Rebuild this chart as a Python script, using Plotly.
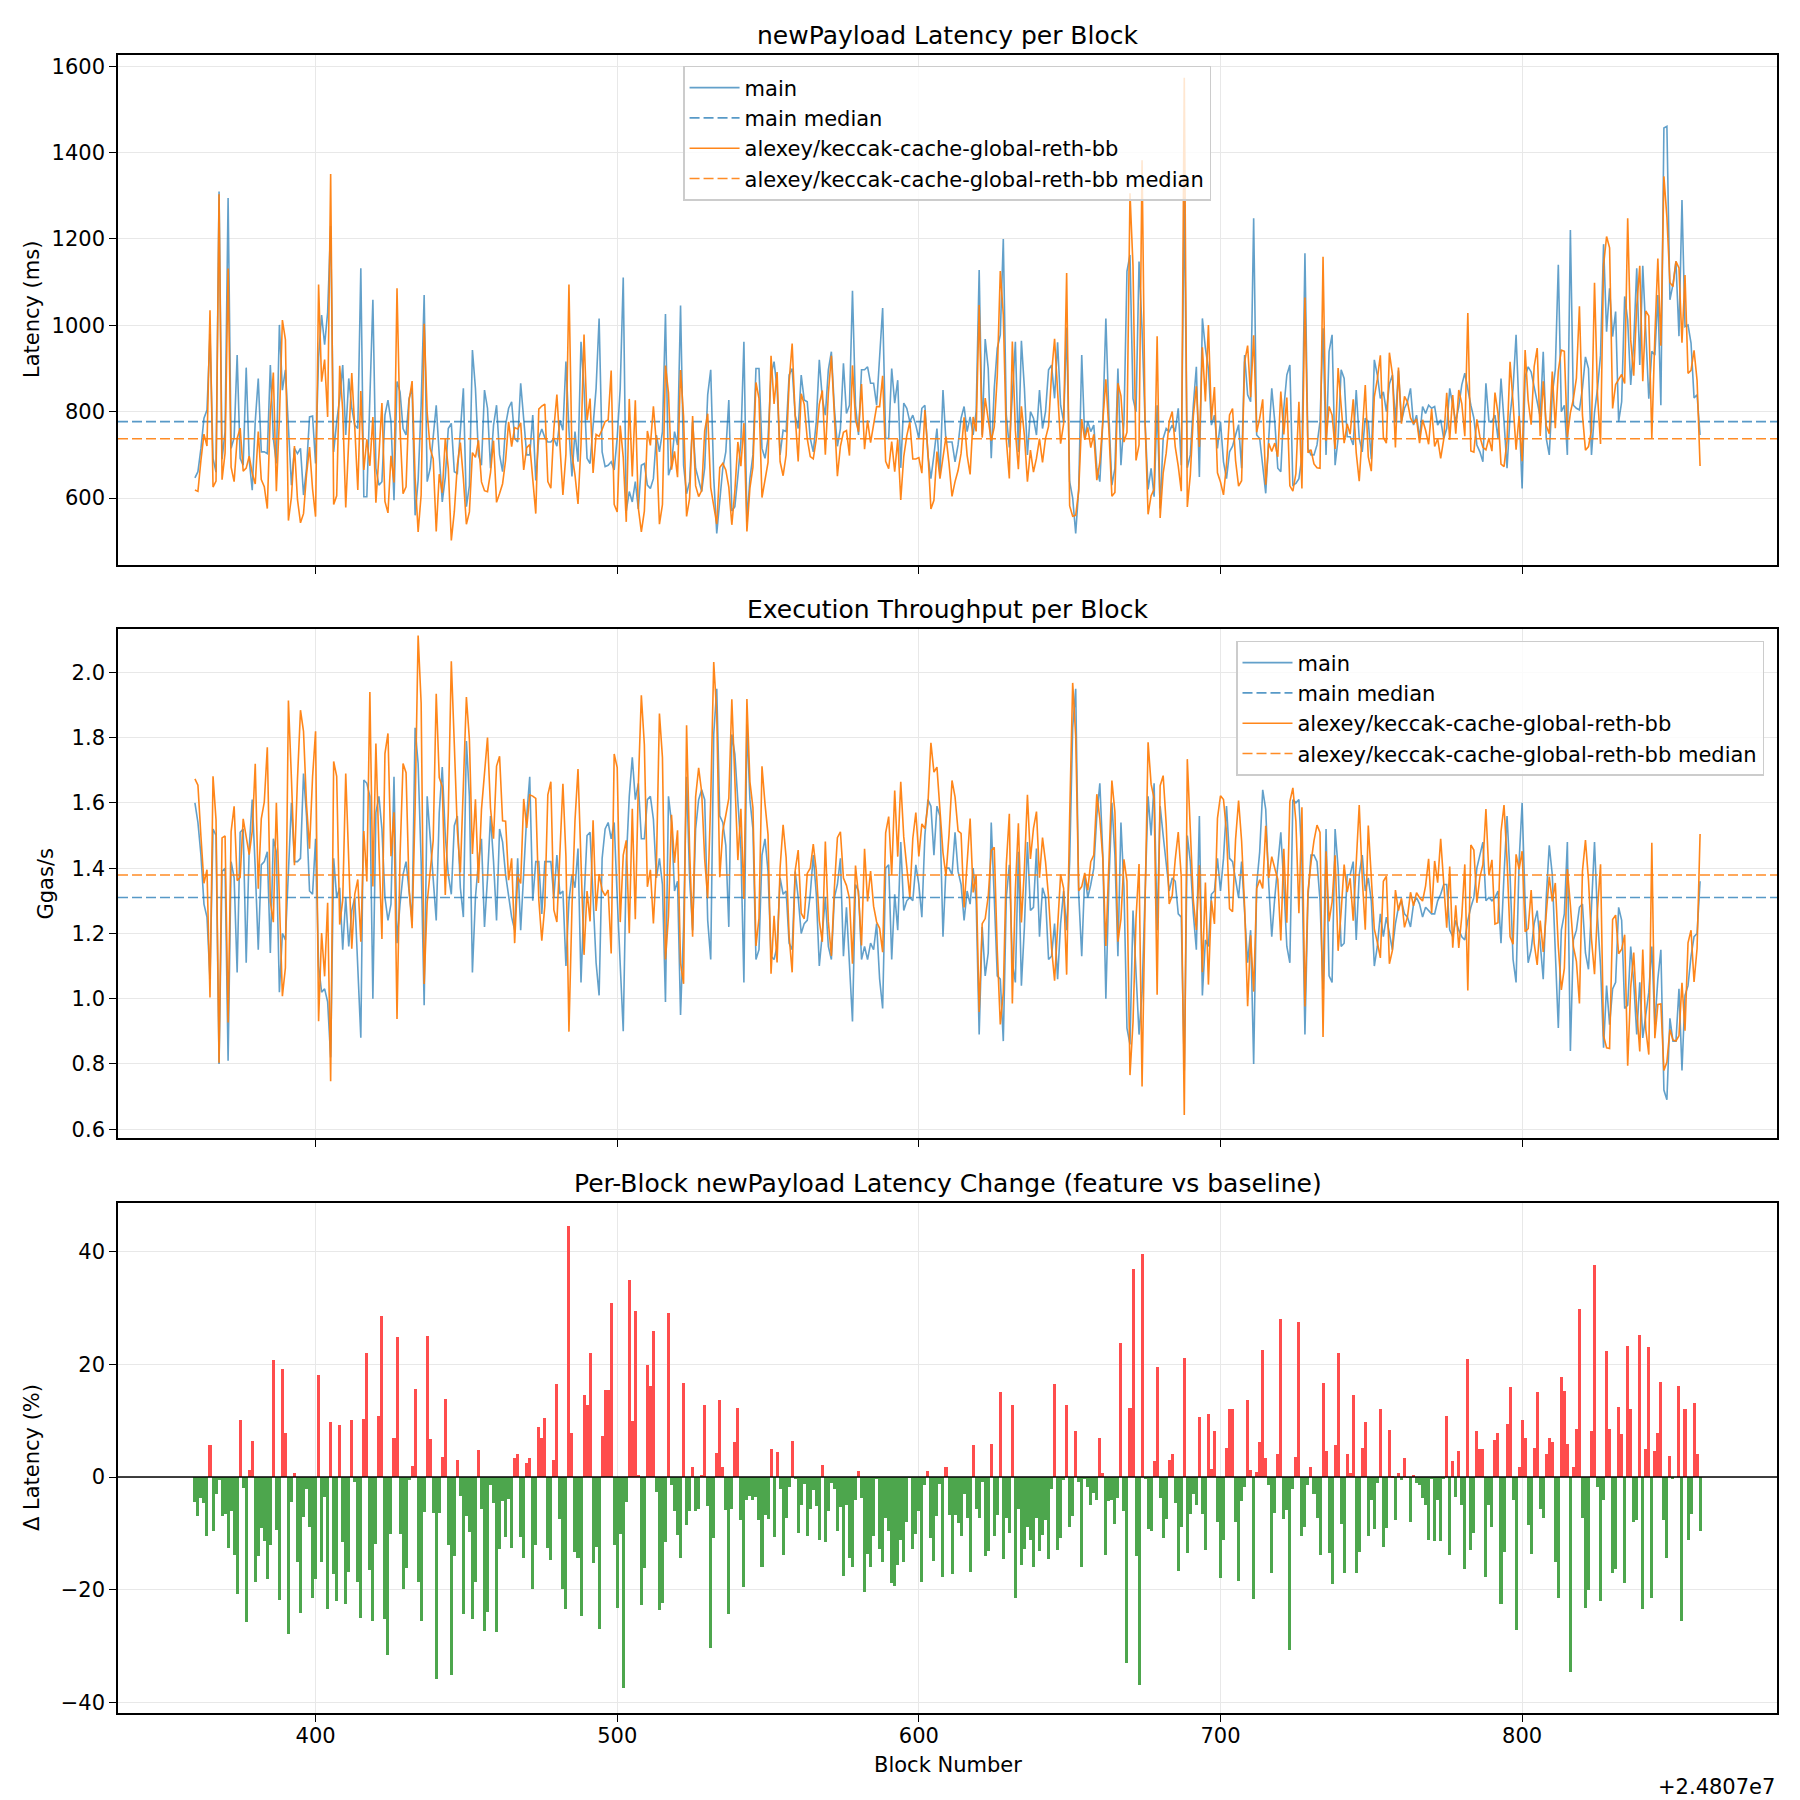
import numpy as np
import plotly.graph_objects as go
from plotly.subplots import make_subplots

# ---------------- data ----------------
BLOCK_START = 24807360
BLOCK_OFFSET = 24807000
MAIN_NAME = "main"
FEATURE_NAME = "alexey/keccak-cache-global-reth-bb"

# newPayload latency of the baseline ("main"), ms, blocks 24807360..24807859
main_latency_ms = [
    647, 661, 715, 785, 804, 980, 692, 660, 1310, 690,
    754, 1295, 715, 740, 931, 692, 676, 902, 688, 618,
    777, 877, 707, 707, 703, 908, 738, 680, 1001, 850,
    897, 760, 630, 715, 703, 715, 607, 669, 788, 790,
    680, 926, 1024, 955, 1030, 1230, 707, 777, 830, 908,
    746, 877, 808, 769, 761, 1132, 603, 603, 808, 1059,
    669, 630, 638, 792, 827, 777, 595, 870, 846, 761,
    746, 831, 854, 560, 641, 815, 1070, 638, 669, 738,
    815, 700, 591, 648, 761, 773, 661, 657, 754, 854,
    580, 629, 943, 854, 700, 676, 850, 808, 669, 769,
    815, 700, 661, 769, 808, 823, 738, 730, 866, 777,
    700, 700, 792, 641, 740, 760, 740, 730, 730, 738,
    720, 780, 757, 916, 757, 650, 754, 684, 962, 854,
    692, 680, 777, 854, 1016, 707, 673, 676, 684, 665,
    740, 854, 1111, 570, 615, 591, 638, 575, 676, 680,
    630, 622, 645, 746, 707, 754, 1026, 653, 676, 754,
    723, 1046, 676, 610, 638, 777, 669, 640, 615, 670,
    839, 897, 647, 518, 590, 669, 707, 827, 570, 580,
    650, 730, 962, 545, 645, 700, 900, 900, 715, 692,
    738, 885, 916, 854, 700, 757, 754, 885, 900, 792,
    761, 885, 827, 823, 738, 707, 777, 920, 831, 792,
    897, 939, 808, 720, 761, 912, 796, 815, 1080, 815,
    746, 897, 897, 904, 866, 866, 815, 931, 1040, 738,
    738, 900, 820, 873, 670, 820, 808, 777, 792, 769,
    738, 808, 815, 700, 645, 700, 761, 653, 850, 730,
    730, 730, 684, 723, 785, 812, 754, 788, 746, 800,
    1128, 746, 968, 900, 692, 854, 947, 978, 1200, 792,
    717, 854, 962, 707, 964, 854, 700, 800, 785, 746,
    850, 761, 800, 897, 908, 831, 961, 815, 777, 995,
    638, 600, 518, 622, 931, 738, 777, 754, 769, 669,
    638, 777, 1016, 792, 630, 669, 900, 676, 777, 1125,
    1163, 830, 800, 1148, 990, 777, 620, 669, 603, 815,
    576, 738, 761, 754, 769, 754, 808, 676, 1298, 670,
    700, 815, 904, 649, 1016, 947, 900, 769, 792, 715,
    777, 684, 645, 707, 720, 746, 770, 669, 931, 839,
    823, 1248, 746, 738, 676, 611, 738, 854, 777, 669,
    661, 808, 885, 908, 630, 634, 645, 695, 1167, 715,
    700, 700, 723, 777, 993, 700, 939, 978, 676, 738,
    897, 877, 742, 742, 723, 850, 738, 707, 785, 777,
    690, 920, 885, 831, 846, 800, 864, 885, 777, 895,
    777, 808, 823, 854, 769, 792, 738, 812, 796, 815,
    808, 812, 769, 781, 738, 761, 854, 815, 777, 812,
    862, 889, 850, 815, 785, 723, 707, 684, 866, 777,
    777, 792, 738, 877, 777, 669, 790, 854, 978, 777,
    622, 881, 904, 892, 860, 823, 788, 939, 738, 700,
    840, 897, 1140, 800, 815, 700, 1221, 815, 808, 804,
    854, 927, 900, 700, 798, 854, 931, 1188, 985, 1086,
    974, 1032, 777, 823, 1067, 1012, 862, 960, 1132, 908,
    1138, 985, 830, 940, 931, 1070, 815, 1457, 1461, 1059,
    1094, 1148, 975, 1290, 997, 1001, 959, 832, 839, 746,
]

# per-block newPayload latency change of the feature branch vs main, %
latency_change_pct = [
    -4.4, -6.9, -3.8, -4.7, -10.4, 5.6, -9.6, -3.1, -0.5, -6.9,
    -6.6, -12.6, -6.1, -13.8, -20.7, 10.1, -2.0, -25.8, 1.3, 6.4,
    -18.6, -14.0, -9.1, -11.4, -18.1, -12.1, 20.7, -9.4, -21.8, 19.1,
    7.8, -27.9, -4.4, 0.8, -15.1, -24.1, -7.1, -2.2, -8.9, -21.4,
    -18.1, 18.2, -15.1, -3.6, -23.5, 9.8, -17.2, -22.1, 9.2, -11.6,
    -22.5, -16.8, 10.1, -0.8, -18.7, -25.1, 10.3, 22.1, -16.5, -25.6,
    -11.9, 10.9, 28.5, -25.2, -31.6, -10.2, 6.9, 24.8, -10.2, -19.8,
    -16.1, -0.6, 2.0, 15.6, -18.6, -25.5, -6.2, 25.1, 6.8, -6.4,
    -35.9, -6.4, 3.6, 13.8, -12.1, -35.1, -14.0, 3.0, -3.4, -24.4,
    -7.0, -9.7, -25.2, -18.7, 4.8, -5.7, -27.4, -23.9, -1.5, -4.7,
    -27.6, -12.8, -4.2, -10.6, -3.9, -12.6, 3.4, 4.1, -10.6, -14.4,
    2.4, 3.4, -19.8, -12.0, 8.9, 7.0, 10.5, -12.6, -14.7, 3.0,
    16.6, -7.5, -19.8, -23.4, 44.6, 7.9, -13.3, -14.3, -24.6, 14.6,
    12.8, 22.1, -15.3, -12.5, -26.9, 7.3, 15.5, 15.5, 30.9, -12.0,
    -23.3, -10.1, -37.5, -4.4, 34.9, 10.0, 29.5, 0.4, -22.8, -16.2,
    19.9, 16.1, 26.0, -2.7, -23.7, -22.4, -11.6, 29.2, -1.5, -6.1,
    -10.3, -14.3, 16.7, -8.6, -6.1, 1.7, -6.1, -5.7, 0.4, 12.8,
    -5.2, -30.4, -10.9, 4.2, 13.7, 1.7, -5.9, -24.4, -5.6, 6.2,
    12.3, -7.7, -19.6, -4.1, -3.3, -4.1, -3.6, -7.7, -15.9, -6.7,
    -7.5, 5.0, -10.7, 4.4, -2.2, -13.9, -7.2, -1.8, 6.4, -0.2,
    -10.0, -4.9, -1.2, -10.4, -5.7, -2.3, -5.2, -11.2, 2.2, -11.6,
    -6.1, -1.0, -2.2, -9.6, -5.4, -17.5, -5.0, -14.3, -16.0, -4.1,
    1.0, -3.7, -20.5, -13.7, -15.9, -10.4, -0.4, -12.8, -15.1, -7.2,
    -9.5, -18.8, -19.4, -15.7, -11.1, -15.1, -7.9, -0.1, -12.8, -10.2,
    -6.0, -18.6, -1.4, 1.1, -10.9, -15.0, -7.0, -1.2, -17.8, 1.7,
    -6.8, -17.3, -6.7, -8.2, -10.4, -3.1, -7.3, -16.9, 5.6, -5.7,
    -7.2, -0.8, -14.1, -13.2, 5.9, -10.5, -6.8, 15.1, -14.6, -7.2,
    -10.0, 12.7, -21.4, -5.7, -15.7, -12.8, -8.9, -11.1, -15.9, -7.2,
    -13.2, -10.3, -7.7, -14.6, -2.2, 16.6, -13.0, -10.9, -0.6, 12.7,
    -8.8, -7.0, 8.1, -0.8, -15.9, -0.4, -1.7, -4.9, -2.8, -4.1,
    7.0, 0.8, -13.9, -4.3, -4.1, -8.4, -3.8, 23.8, -6.1, -33.1,
    12.3, 37.0, -14.1, -37.0, 39.6, -0.2, -9.3, -9.5, 2.9, 19.6,
    -3.8, -10.9, -7.5, 3.1, 4.1, -4.7, -16.6, -8.9, 21.2, -13.5,
    -6.6, -3.1, -5.0, 10.7, -6.6, -13.0, 11.2, 1.5, 8.2, -7.9,
    -18.0, -11.2, 5.2, 12.1, 12.1, -7.9, -18.5, -4.3, -1.7, 13.6,
    1.3, -21.7, 0.9, 6.3, 22.6, 3.3, -1.5, -17.1, -6.4, 4.0,
    28.1, -7.5, -5.9, -30.8, -2.2, 3.6, 27.6, -10.5, -8.8, -1.4,
    1.7, -3.0, -7.3, -13.9, 16.7, 4.7, -13.5, -19.0, 5.6, 22.1,
    -8.4, -17.1, 4.0, 0.8, 14.6, -17.1, -13.4, 5.2, 9.8, -10.5,
    -4.0, -9.3, -1.1, 12.0, -12.5, -9.1, 8.4, 0.2, -7.7, 0.8,
    -0.6, 3.4, -0.1, -8.0, 0.4, -1.1, -1.5, -3.8, -4.9, -11.1,
    -0.2, -11.4, -4.1, -11.4, -0.4, 10.9, -13.9, 2.9, -3.6, 4.7,
    -5.0, -16.4, 21.0, -13.0, -10.0, 8.2, 4.9, 4.9, -17.8, -4.9,
    -8.8, 6.6, 7.9, -22.6, -13.4, 9.5, 15.9, -4.0, -27.2, 1.7,
    10.2, 7.0, -8.6, -13.7, 5.2, 15.1, -5.6, -7.3, 4.0, 7.0,
    6.3, -15.1, -21.5, 17.8, 15.3, 5.9, -34.7, 1.8, 8.6, 29.9,
    -7.2, -23.3, -20.1, 8.2, 37.7, -1.8, -22.1, -4.1, 22.4, 8.6,
    -17.1, -16.4, 12.5, 7.7, -18.9, 23.3, 12.1, -8.0, -7.7, 25.3,
    -23.5, 4.9, 23.1, -21.5, 4.7, 7.9, 16.9, -7.7, -14.4, 3.8,
    -0.4, 0.0, 16.2, -25.6, 12.0, -11.2, -6.6, 13.2, 4.0, -9.6,
]

# execution throughput of the baseline ("main"), Ggas/s
main_throughput_ggas = [
    1.60, 1.54, 1.44, 1.29, 1.25, 1.06, 1.52, 1.50, 0.80, 1.39,
    1.40, 0.81, 1.42, 1.37, 1.08, 1.51, 1.52, 1.11, 1.46, 1.61,
    1.40, 1.15, 1.41, 1.42, 1.45, 1.14, 1.49, 1.45, 1.02, 1.20,
    1.18, 1.38, 1.60, 1.42, 1.42, 1.43, 1.69, 1.56, 1.33, 1.32,
    1.49, 1.10, 1.02, 1.03, 0.99, 0.82, 1.43, 1.31, 1.34, 1.15,
    1.31, 1.16, 1.27, 1.31, 1.11, 0.88, 1.67, 1.66, 1.62, 1.00,
    1.57, 1.62, 1.52, 1.31, 1.24, 1.29, 1.68, 1.17, 1.29, 1.38,
    1.42, 1.33, 1.24, 1.83, 1.72, 1.42, 0.98, 1.62, 1.49, 1.39,
    1.24, 1.57, 1.71, 1.50, 1.38, 1.32, 1.53, 1.56, 1.34, 1.25,
    1.79, 1.62, 1.08, 1.31, 1.42, 1.49, 1.22, 1.37, 1.56, 1.42,
    1.24, 1.52, 1.48, 1.38, 1.31, 1.25, 1.21, 1.43, 1.21, 1.38,
    1.56, 1.68, 1.30, 1.42, 1.42, 1.26, 1.42, 1.42, 1.42, 1.31,
    1.44, 1.32, 1.33, 1.10, 1.30, 1.38, 1.34, 1.46, 1.05, 1.30,
    1.50, 1.51, 1.31, 1.11, 1.01, 1.43, 1.52, 1.54, 1.49, 1.54,
    1.31, 1.11, 0.90, 1.42, 1.62, 1.74, 1.61, 1.66, 1.49, 1.49,
    1.61, 1.62, 1.55, 1.37, 1.43, 1.35, 0.99, 1.62, 1.54, 1.33,
    1.36, 0.95, 1.22, 1.68, 1.37, 1.21, 1.52, 1.61, 1.64, 1.61,
    1.24, 1.12, 1.81, 1.95, 1.56, 1.54, 1.47, 1.22, 1.81, 1.75,
    1.60, 1.46, 1.05, 1.84, 1.61, 1.52, 1.12, 1.15, 1.44, 1.49,
    1.39, 1.13, 1.12, 1.16, 1.37, 1.32, 1.33, 1.17, 1.15, 1.39,
    1.31, 1.20, 1.23, 1.24, 1.32, 1.44, 1.32, 1.10, 1.20, 1.31,
    1.16, 1.12, 1.31, 1.35, 1.43, 1.13, 1.28, 1.12, 0.93, 1.35,
    1.33, 1.12, 1.16, 1.12, 1.17, 1.15, 1.23, 1.06, 0.97, 1.40,
    1.41, 1.12, 1.32, 1.21, 1.48, 1.27, 1.30, 1.31, 1.30, 1.41,
    1.35, 1.25, 1.50, 1.61, 1.59, 1.44, 1.59, 1.56, 1.19, 1.40,
    1.40, 1.38, 1.51, 1.39, 1.35, 1.24, 1.33, 1.29, 1.40, 1.30,
    0.89, 1.22, 1.07, 1.14, 1.54, 1.31, 1.07, 1.06, 0.87, 1.31,
    1.41, 1.11, 1.05, 1.45, 1.04, 1.22, 1.48, 1.27, 1.28, 1.46,
    1.19, 1.34, 1.31, 1.12, 1.13, 1.23, 1.06, 1.23, 1.33, 1.21,
    1.42, 1.83, 1.95, 1.32, 1.13, 1.38, 1.31, 1.35, 1.40, 1.56,
    1.66, 1.44, 1.00, 1.35, 1.60, 1.44, 1.13, 1.54, 1.34, 0.91,
    0.86, 1.27, 1.07, 0.89, 1.02, 1.29, 1.62, 1.50, 1.66, 1.21,
    1.59, 1.50, 1.42, 1.33, 1.37, 1.36, 1.26, 1.25, 0.78, 1.50,
    1.42, 1.26, 1.15, 1.56, 1.01, 1.18, 1.16, 1.32, 1.33, 1.43,
    1.33, 1.43, 1.59, 1.43, 1.42, 1.37, 1.31, 1.42, 1.26, 1.11,
    1.21, 0.80, 1.35, 1.45, 1.64, 1.58, 1.35, 1.19, 1.31, 1.42,
    1.51, 1.35, 1.16, 1.11, 1.61, 1.60, 1.61, 1.42, 0.89, 1.31,
    1.44, 1.44, 1.42, 1.30, 1.03, 1.52, 1.07, 1.05, 1.52, 1.40,
    1.16, 1.17, 1.38, 1.38, 1.42, 1.18, 1.38, 1.44, 1.33, 1.37,
    1.30, 1.10, 1.16, 1.26, 1.19, 1.25, 1.20, 1.15, 1.23, 1.28,
    1.30, 1.26, 1.25, 1.22, 1.29, 1.31, 1.29, 1.25, 1.28, 1.27,
    1.26, 1.26, 1.30, 1.32, 1.35, 1.35, 1.21, 1.19, 1.24, 1.21,
    1.19, 1.18, 1.24, 1.28, 1.31, 1.40, 1.44, 1.48, 1.30, 1.31,
    1.30, 1.31, 1.33, 1.17, 1.38, 1.56, 1.38, 1.12, 1.05, 1.42,
    1.60, 1.29, 1.11, 1.15, 1.23, 1.27, 1.17, 1.06, 1.31, 1.47,
    1.38, 1.15, 0.91, 1.21, 1.26, 1.48, 0.84, 1.18, 1.21, 1.28,
    1.29, 1.14, 1.09, 1.28, 1.48, 1.25, 1.10, 0.85, 1.04, 0.92,
    1.03, 1.05, 1.28, 1.24, 0.97, 0.98, 1.16, 1.05, 0.89, 1.05,
    0.88, 0.95, 1.02, 1.16, 0.92, 1.06, 1.15, 0.72, 0.69, 0.94,
    0.87, 0.87, 1.03, 0.78, 1.01, 1.04, 1.13, 1.19, 1.20, 1.36,
]

x_tick_values = [400, 500, 600, 700, 800]
x_tick_labels = ["400", "500", "600", "700", "800"]
lat_ticks = [600, 800, 1000, 1200, 1400, 1600]
tp_ticks = [0.6, 0.8, 1.0, 1.2, 1.4, 1.6, 1.8, 2.0]
pct_ticks = [-40, -20, 0, 20, 40]

# ---------------- derived series ----------------
n = min(len(main_latency_ms), len(latency_change_pct), len(main_throughput_ggas))
blocks = BLOCK_START + np.arange(n)
main_lat = np.array(main_latency_ms[:n], dtype=float)
delta = np.array(latency_change_pct[:n], dtype=float)
main_tp = np.array(main_throughput_ggas[:n], dtype=float)
feat_lat = main_lat * (1.0 + delta / 100.0)
feat_tp = main_tp / (1.0 + delta / 100.0)
pct = (feat_lat - main_lat) / main_lat * 100.0

# ---------------- styling ----------------
FONT = "DejaVu Sans"
BLUE = "rgba(31,119,180,0.7)"
ORANGE = "rgba(255,127,14,0.95)"
RED = "rgb(255,77,77)"
GREEN = "rgb(77,166,77)"
GRID = "rgb(232,232,232)"

x0 = BLOCK_START - 25.5
x1 = BLOCK_START + n - 1 + 25.5

fig = make_subplots(rows=3, cols=1, shared_xaxes=True)

def add_pair(row, ymain, yfeat, legend):
    fig.add_trace(go.Scatter(x=blocks, y=ymain, mode="lines", name=MAIN_NAME,
                             line=dict(color=BLUE, width=1.6), legend=legend),
                  row=row, col=1)
    m = float(np.median(ymain))
    fig.add_trace(go.Scatter(x=[x0, x1], y=[m, m], mode="lines", name=MAIN_NAME + " median",
                             line=dict(color="rgba(31,119,180,0.75)", width=1.6, dash="10px,4px"),
                             legend=legend), row=row, col=1)
    fig.add_trace(go.Scatter(x=blocks, y=yfeat, mode="lines", name=FEATURE_NAME,
                             line=dict(color=ORANGE, width=1.6), legend=legend),
                  row=row, col=1)
    f = float(np.median(yfeat))
    fig.add_trace(go.Scatter(x=[x0, x1], y=[f, f], mode="lines", name=FEATURE_NAME + " median",
                             line=dict(color="rgba(255,127,14,0.9)", width=1.6, dash="10px,4px"),
                             legend=legend), row=row, col=1)

add_pair(1, main_lat, feat_lat, "legend")
add_pair(2, main_tp, feat_tp, "legend2")

fig.add_trace(go.Bar(x=blocks, y=pct, width=1.0,
                     marker=dict(color=[RED if v > 0 else GREEN for v in pct], line=dict(width=0)),
                     showlegend=False), row=3, col=1)

axis_common = dict(showline=True, linecolor="black", linewidth=1.6, mirror=True,
                   ticks="outside", ticklen=7, tickwidth=1.4, tickcolor="black",
                   showgrid=True, gridcolor=GRID, gridwidth=1.4, zeroline=False,
                   tickfont=dict(family=FONT, size=21, color="black"))

tickvals_abs = [BLOCK_OFFSET + v for v in x_tick_values]
for i in (1, 2, 3):
    fig.update_xaxes(range=[x0, x1], tickvals=tickvals_abs, ticktext=x_tick_labels,
                     row=i, col=1, **axis_common)
fig.update_xaxes(showticklabels=False, row=1, col=1)
fig.update_xaxes(showticklabels=False, row=2, col=1)
fig.update_xaxes(showticklabels=True, ticklabelstandoff=-4, row=3, col=1)

fig.update_yaxes(range=[445, 1626], tickvals=lat_ticks, row=1, col=1, **axis_common)
fig.update_yaxes(range=[0.573, 2.133], tickvals=tp_ticks, tickformat=".1f", row=2, col=1, **axis_common)
fig.update_yaxes(range=[-41.9, 48.65], tickvals=pct_ticks, row=3, col=1, **axis_common)

dom1 = [0.6924, 1.0]
dom2 = [0.3468, 0.6538]
dom3 = [0.0, 0.3076]

legend_style = dict(bgcolor="rgba(255,255,255,0.8)", bordercolor="rgb(204,204,204)",
                    borderwidth=1.5, font=dict(family=FONT, size=21, color="black"),
                    xanchor="left", yanchor="top", tracegroupgap=0, itemwidth=50)

fig.update_layout(
    width=1800, height=1800,
    margin=dict(l=118, r=23, t=55, b=87),
    paper_bgcolor="white", plot_bgcolor="white",
    font=dict(family=FONT, size=21, color="black"),
    bargap=0,
    yaxis=dict(domain=dom1), yaxis2=dict(domain=dom2), yaxis3=dict(domain=dom3),
    legend=dict(x=0.3406, y=0.9934, **legend_style),
    legend2=dict(x=0.6739, y=0.6466, **legend_style),
)

# zero line on the change panel
fig.add_shape(type="line", xref="x3 domain", yref="y3", x0=0, x1=1, y0=0, y1=0,
              line=dict(color="black", width=1.3), layer="above")

titles = [("newPayload Latency per Block", dom1[1]),
          ("Execution Throughput per Block", dom2[1]),
          ("Per-Block newPayload Latency Change (feature vs baseline)", dom3[1])]
for text, ytop in titles:
    fig.add_annotation(text=text, xref="paper", yref="paper", x=0.5, y=ytop,
                       xanchor="center", yanchor="bottom", yshift=3, showarrow=False,
                       font=dict(family=FONT, size=25, color="black"))

ylabels = [("Latency (ms)", -0.0518, (dom1[0] + dom1[1]) / 2),
           ("Ggas/s", -0.0434, (dom2[0] + dom2[1]) / 2),
           ("Δ Latency (%)", -0.0518, (dom3[0] + dom3[1]) / 2)]
for text, xp, yp in ylabels:
    fig.add_annotation(text=text, xref="paper", yref="paper", x=xp, y=yp,
                       xanchor="center", yanchor="middle", textangle=-90, showarrow=False,
                       font=dict(family=FONT, size=21, color="black"))

fig.add_annotation(text="Block Number", xref="paper", yref="paper", x=0.5, y=-0.0311,
                   xanchor="center", yanchor="middle", showarrow=False,
                   font=dict(family=FONT, size=21, color="black"))
fig.add_annotation(text="+2.4807e7", xref="paper", yref="paper", x=1.0, y=-0.0446,
                   xanchor="right", yanchor="middle", showarrow=False,
                   font=dict(family=FONT, size=21, color="black"))

fig.write_html("out.html")
